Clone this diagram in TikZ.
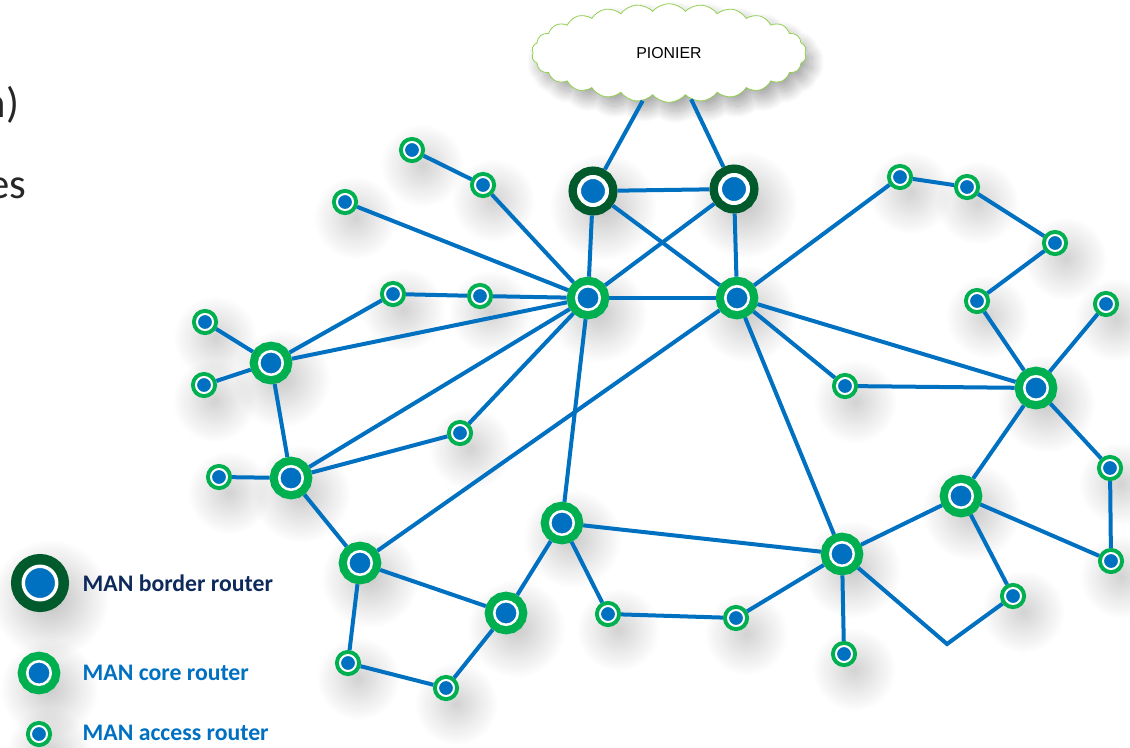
\documentclass[tikz,border=0pt]{standalone}
\usepackage{fontspec}
\setmainfont{Carlito}
\newfontfamily\cloudfont{Liberation Sans}
\usetikzlibrary{shapes.symbols}
\usetikzlibrary{shadows.blur}
\definecolor{netblue}{HTML}{0070C0}
\definecolor{coregreen}{HTML}{00B050}
\definecolor{bordergreen}{HTML}{005A2B}
\definecolor{cloudgreen}{HTML}{92D050}
\definecolor{labelnavy}{HTML}{0E2A5C}
\definecolor{slidetext}{HTML}{262626}

\begin{document}
\begin{tikzpicture}[x=0.75pt,y=-0.75pt,
    link/.style={draw=netblue,line width=3pt},
    soft/.style={blur shadow={shadow xshift=4pt,shadow yshift=-6pt,shadow blur radius=10pt,shadow blur steps=30,shadow opacity=22,shadow scale=2}},
    router/.style={circle,inner sep=0pt,fill=netblue,draw=white,soft},
    border/.style={router,minimum size=21pt,line width=3pt,outer sep=7.9pt,preaction={draw=bordergreen,line width=15.75pt}},
    core/.style={router,minimum size=17.6pt,line width=1.9pt,outer sep=7.2pt,preaction={draw=coregreen,line width=14.3pt}},
    access/.style={router,minimum size=12pt,line width=1.5pt,outer sep=3.8pt,preaction={draw=coregreen,line width=7.5pt}},
    legendtext/.style={anchor=west,text=netblue,font=\bfseries\fontsize{17.8}{20}\selectfont}]
    \useasboundingbox (0,0) rectangle (1130,747);

    % cut-off slide text
    \node[anchor=base east,text=slidetext,font=\fontsize{32}{36}\selectfont] (frag-1) at (24,117) {n)};
    \node[anchor=base east,text=slidetext,font=\fontsize{32}{36}\selectfont] (frag-2) at (31,198) {es};

    % upstream network
    \node[cloud,cloud puffs=26,cloud puff arc=100,cloud ignores aspect,minimum width=206pt,minimum height=74pt,
          fill=white,draw=cloudgreen,line width=0.6pt,
          blur shadow={shadow xshift=5pt,shadow yshift=-7pt,shadow blur radius=9pt,shadow blur steps=30,shadow opacity=35}] (pionier) at (669,53) {\cloudfont\fontsize{11.9}{14}\selectfont PIONIER};

    % border routers
    \node[border] (border-1) at (593,191) {};
    \node[border] (border-2) at (734,189) {};

    % core routers
    \node[core] (core-1) at (588,298) {};
    \node[core] (core-2) at (737,298) {};
    \node[core] (core-3) at (271,363) {};
    \node[core] (core-4) at (291,478) {};
    \node[core] (core-5) at (360,563) {};
    \node[core] (core-6) at (506,613) {};
    \node[core] (core-7) at (562,523) {};
    \node[core] (core-8) at (842,554) {};
    \node[core] (core-9) at (961,496) {};
    \node[core] (core-10) at (1036,388) {};

    % access routers
    \node[access] (access-1) at (412,150) {};
    \node[access] (access-2) at (483,185) {};
    \node[access] (access-3) at (345,202) {};
    \node[access] (access-4) at (393,294) {};
    \node[access] (access-5) at (480,296) {};
    \node[access] (access-6) at (205,322) {};
    \node[access] (access-7) at (204,385) {};
    \node[access] (access-8) at (219,477) {};
    \node[access] (access-9) at (460,433) {};
    \node[access] (access-10) at (348,663) {};
    \node[access] (access-11) at (446,688) {};
    \node[access] (access-12) at (608,614) {};
    \node[access] (access-13) at (736,618) {};
    \node[access] (access-14) at (844,654) {};
    \node[access] (access-15) at (845,386) {};
    \node[access] (access-16) at (900,177) {};
    \node[access] (access-17) at (967,187) {};
    \node[access] (access-18) at (1055,243) {};
    \node[access] (access-19) at (977,301) {};
    \node[access] (access-20) at (1106,304) {};
    \node[access] (access-21) at (1110,468) {};
    \node[access] (access-22) at (1111,561) {};
    \node[access] (access-23) at (1013,596) {};
    \coordinate (bend) at (947,644);

    % links
    \draw[link] (pionier) -- (border-1);
    \draw[link] (pionier) -- (border-2);
    \draw[link] (border-1) -- (border-2);
    \draw[link] (border-1) -- (core-1);
    \draw[link] (border-1) -- (core-2);
    \draw[link] (border-2) -- (core-1);
    \draw[link] (border-2) -- (core-2);
    \draw[link] (core-1) -- (core-2);
    \draw[link] (access-1) -- (access-2) -- (core-1);
    \draw[link] (access-3) -- (core-1);
    \draw[link] (core-3) -- (access-4) -- (access-5) -- (core-1);
    \draw[link] (core-3) -- (core-1);
    \draw[link] (core-3) -- (access-6);
    \draw[link] (core-3) -- (access-7);
    \draw[link] (core-3) -- (core-4);
    \draw[link] (core-4) -- (access-8);
    \draw[link] (core-4) -- (core-1);
    \draw[link] (core-4) -- (access-9) -- (core-1);
    \draw[link] (core-4) -- (core-5);
    \draw[link] (core-5) -- (core-2);
    \draw[link] (core-5) -- (core-6);
    \draw[link] (core-5) -- (access-10) -- (access-11) -- (core-6);
    \draw[link] (core-6) -- (core-7);
    \draw[link] (core-7) -- (core-1);
    \draw[link] (core-7) -- (core-8);
    \draw[link] (core-7) -- (access-12) -- (access-13) -- (core-8);
    \draw[link] (core-2) -- (core-8);
    \draw[link] (core-2) -- (access-15) -- (core-10);
    \draw[link] (core-2) -- (core-10);
    \draw[link] (core-2) -- (access-16) -- (access-17) -- (access-18) -- (access-19) -- (core-10);
    \draw[link] (core-10) -- (access-20);
    \draw[link] (core-10) -- (core-9);
    \draw[link] (core-10) -- (access-21) -- (access-22) -- (core-9);
    \draw[link] (core-9) -- (core-8);
    \draw[link] (core-9) -- (access-23) -- (bend) -- (core-8);
    \draw[link] (core-8) -- (access-14);

    % legend
    \node[router,minimum size=25.1pt,line width=2.6pt,preaction={draw=bordergreen,line width=18.4pt}] (key-border) at (40,583) {};
    \node[core] (key-core) at (39,673) {};
    \node[access] (key-access) at (39,734) {};
    \node[legendtext,text=labelnavy] (label-border) at (78,583) {MAN border router};
    \node[legendtext] (label-core) at (78,673) {MAN core router};
    \node[legendtext] (label-access) at (78,733) {MAN access router};
\end{tikzpicture}
\end{document}
